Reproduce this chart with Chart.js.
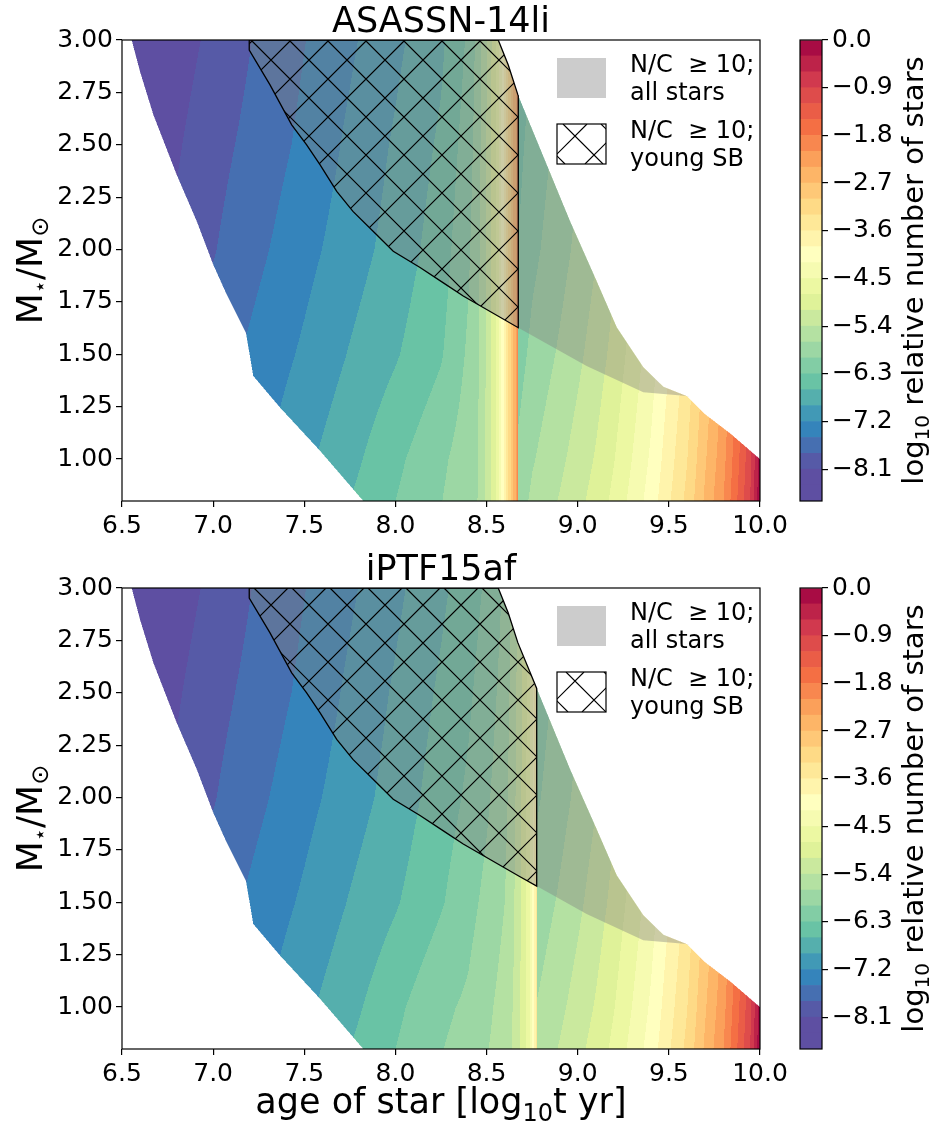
<!DOCTYPE html>
<html>
<head>
<meta charset="utf-8">
<script src="https://cdn.jsdelivr.net/npm/chart.js@4.4.1/dist/chart.umd.min.js"></script>
<style>
  body { margin: 0; background: #fff; width: 933px; height: 1129px; position: relative; overflow: hidden; }
  canvas { position: absolute; }
</style>
</head>
<body>
<canvas id="p1" width="933" height="548" style="left:0;top:0"></canvas>
<canvas id="c1" width="143" height="548" style="left:790px;top:0"></canvas>
<canvas id="p2" width="933" height="581" style="left:0;top:548px"></canvas>
<canvas id="c2" width="143" height="581" style="left:790px;top:548px"></canvas>
<script>
// ---- axes / levels ----
const xTicks = [6.5, 7.0, 7.5, 8.0, 8.5, 9.0, 9.5, 10.0];
const yTicks = [1.0, 1.25, 1.5, 1.75, 2.0, 2.25, 2.5, 2.75, 3.0];
const cbTicks = [-8.1, -7.2, -6.3, -5.4, -4.5, -3.6, -2.7, -1.8, -0.9, 0.0];
const levelMin = -8.7, levelStep = 0.3, levelCount = 29;

// ---- log10 relative number of stars, rows = stellar mass ----
const massRows = [0.8, 1.0, 1.5, 2.0, 2.5, 3.0];

// older stars, same for both hosts
const oldAges = [6.5, 6.75, 7.0, 7.25, 7.5, 7.75, 8.0, 8.25];
const oldVals = [
  [-7.98, -7.71, -7.44, -7.17, -6.90, -6.60, -6.30, -6.01],
  [-8.08, -7.80, -7.52, -7.25, -6.97, -6.69, -6.37, -6.06],
  [-8.20, -7.93, -7.66, -7.40, -7.15, -6.88, -6.63, -6.33],
  [-8.34, -8.09, -7.82, -7.56, -7.30, -7.04, -6.78, -6.45],
  [-8.45, -8.19, -7.91, -7.68, -7.43, -7.14, -6.86, -6.55],
  [-8.54, -8.29, -8.03, -7.76, -7.51, -7.25, -6.97, -6.66]
];

// ages beyond the starburst, same for both hosts
const lateAges = [8.9, 9.0, 9.1, 9.2, 9.3, 9.4, 9.5, 9.6, 9.7, 9.8, 9.9, 9.95, 10.0];
const lateVals = [
  [-5.38, -5.19, -4.98, -4.72, -4.40, -4.07, -3.64, -3.22, -2.64, -2.10, -1.30, -0.85, -0.05],
  [-5.47, -5.28, -5.07, -4.81, -4.49, -4.16, -3.73, -3.31, -2.73, -2.19, -1.39, -0.94, -0.14],
  [-5.66, -5.47, -5.26, -5.00, -4.68, -4.35, -3.92, -3.50, -2.92, -2.38, -1.58, -1.13, -0.33],
  [-5.82, -5.63, -5.42, -5.16, -4.84, -4.51, -4.08, -3.66, -3.08, -2.54, -1.74, -1.29, -0.49],
  [-5.92, -5.73, -5.52, -5.26, -4.94, -4.61, -4.18, -3.76, -3.18, -2.64, -1.84, -1.39, -0.59],
  [-6.03, -5.84, -5.63, -5.37, -5.05, -4.72, -4.29, -3.87, -3.29, -2.75, -1.95, -1.50, -0.70]
];

// ASASSN-14li: starburst up to log t = 8.674
const asassnSB = 8.674;
const asassnBurstAges = [8.4, 8.45, 8.49, 8.52, 8.55, 8.57, 8.59, 8.61, 8.63, 8.645, 8.66, 8.674];
const asassnBurstVals = [
  [-5.80, -5.70, -5.42, -5.12, -4.80, -4.45, -4.00, -3.50, -3.05, -2.70, -2.40, -1.95],
  [-5.84, -5.72, -5.43, -5.12, -4.80, -4.45, -4.00, -3.50, -3.05, -2.70, -2.40, -1.95],
  [-5.95, -5.76, -5.45, -5.13, -4.81, -4.45, -4.00, -3.50, -3.05, -2.70, -2.40, -1.95],
  [-6.05, -5.80, -5.47, -5.14, -4.82, -4.46, -4.01, -3.50, -3.05, -2.70, -2.40, -1.95],
  [-6.15, -5.85, -5.50, -5.16, -4.83, -4.47, -4.01, -3.51, -3.06, -2.70, -2.40, -1.95],
  [-6.25, -5.90, -5.53, -5.18, -4.85, -4.48, -4.02, -3.51, -3.06, -2.71, -2.41, -1.96]
];
const asassnAfterAges = [8.674, 8.75];
const asassnAfterVals = [
  [-5.85, -5.64], [-5.94, -5.73], [-6.13, -5.92], [-6.29, -6.08], [-6.39, -6.18], [-6.50, -6.29]
];

// iPTF15af: starburst up to log t = 8.775
const iptfSB = 8.775;
const iptfBurstAges = [8.4, 8.5, 8.6, 8.65, 8.69, 8.72, 8.745, 8.76, 8.775];
const iptfBurstVals = [
  [-5.90, -5.72, -5.55, -5.35, -5.05, -4.75, -4.40, -3.95, -3.40],
  [-5.95, -5.77, -5.58, -5.37, -5.06, -4.75, -4.40, -3.95, -3.40],
  [-6.10, -5.92, -5.70, -5.42, -5.08, -4.76, -4.41, -3.95, -3.40],
  [-6.25, -6.05, -5.80, -5.48, -5.11, -4.78, -4.42, -3.96, -3.41],
  [-6.35, -6.15, -5.88, -5.53, -5.14, -4.80, -4.43, -3.97, -3.42],
  [-6.45, -6.25, -5.95, -5.58, -5.17, -4.82, -4.44, -3.97, -3.42]
];
const iptfAfterAges = [8.775];
const iptfAfterVals = [[-5.60], [-5.69], [-5.88], [-6.04], [-6.14], [-6.25]];

// ---- region edges [log age, mass] ----
const leftEdge = [[7.824, 0.8], [7.586, 1.04], [7.367, 1.246], [7.22, 1.397], [7.18, 1.603], [7.074, 1.786],
  [7.0, 1.929], [6.91, 2.135], [6.8, 2.357], [6.672, 2.643], [6.599, 2.849], [6.553, 3.0]];
const rightEdge = [[8.564, 3.0], [8.619, 2.881], [8.672, 2.738], [8.958, 2.135], [9.104, 1.849], [9.214, 1.629],
  [9.36, 1.438], [9.47, 1.345], [9.6, 1.30], [9.69, 1.22], [9.84, 1.12], [10.0, 1.0]];
// lower edge of the N/C >= 10 region
const nc10Edge = [[7.198, 3.0], [7.198, 2.952], [7.312, 2.786], [7.431, 2.595], [7.513, 2.5], [7.586, 2.405],
  [7.678, 2.278], [7.767, 2.182], [7.897, 2.071], [7.988, 1.992], [8.135, 1.914], [8.263, 1.841],
  [8.372, 1.778], [8.674, 1.627], [9.049, 1.444], [9.36, 1.319], [9.615, 1.30]];

const FONT = "'DejaVu Sans', sans-serif";

// ---- colours: matplotlib Spectral, reversed ----
const spectral = ['#9e0142', '#d53e4f', '#f46d43', '#fdae61', '#fee08b', '#ffffbf',
  '#e6f598', '#abdda4', '#66c2a5', '#3288bd', '#5e4fa2'];
const stops = spectral.map(h => [1, 3, 5].map(i => parseInt(h.slice(i, i + 2), 16)));
function spectralR(t) {
  const s = (1 - t) * 10, i = Math.min(9, Math.floor(s)), f = s - i;
  return [0, 1, 2].map(k => Math.round(stops[i][k] + (stops[i + 1][k] - stops[i][k]) * f));
}
const bandColors = [];
for (let k = 0; k < levelCount; k++) bandColors.push(spectralR(Math.min(1, Math.max(0, (k - 1.5) / 27))));

function seg(xs, x) {
  const n = xs.length;
  if (x <= xs[0]) return [0, 0];
  if (x >= xs[n - 1]) return [n - 2, 1];
  let i = 0;
  while (xs[i + 1] < x) i++;
  return [i, (x - xs[i]) / (xs[i + 1] - xs[i])];
}
function lerpTable(pts, a, b, v) {
  if (v <= pts[0][a]) return pts[0][b];
  const n = pts.length;
  if (v >= pts[n - 1][a]) return pts[n - 1][b];
  let i = 0;
  while (pts[i + 1][a] < v) i++;
  const p = pts[i], q = pts[i + 1];
  return p[b] + (q[b] - p[b]) * (v - p[a]) / (q[a] - p[a]);
}
function rightM(t) { return t <= rightEdge[0][0] ? Infinity : lerpTable(rightEdge, 0, 1, t); }

function grayPolygon() {
  const pts = nc10Edge.slice();
  const last = nc10Edge[nc10Edge.length - 1][0];
  rightEdge.filter(p => p[0] < last).reverse().forEach(p => pts.push(p));
  return pts;
}
function hatchPolygon(sb) {
  const pts = nc10Edge.filter(p => p[0] < sb);
  pts.push([sb, lerpTable(nc10Edge.slice(1), 0, 1, sb)]);
  pts.push([sb, rightM(sb)]);
  rightEdge.filter(p => p[0] < sb).reverse().forEach(p => pts.push(p));
  pts.push(pts[0]);
  return pts;
}

function makePanel(o) {
  return {
    title: o.title, sb: o.sb, phase: o.phase, xlabel: o.xlabel,
    leftAges: oldAges.concat(o.burstAges),
    leftVals: oldVals.map((r, i) => r.concat(o.burstVals[i])),
    rightAges: o.afterAges.concat(lateAges),
    rightVals: o.afterVals.map((r, i) => r.concat(lateVals[i])),
    grayPoly: grayPolygon(),
    hatchPoly: hatchPolygon(o.sb)
  };
}
const panels = [
  makePanel({ title: 'ASASSN-14li', sb: asassnSB, burstAges: asassnBurstAges, burstVals: asassnBurstVals,
    afterAges: asassnAfterAges, afterVals: asassnAfterVals, phase: [21, 27], xlabel: false }),
  makePanel({ title: 'iPTF15af', sb: iptfSB, burstAges: iptfBurstAges, burstVals: iptfBurstVals,
    afterAges: iptfAfterAges, afterVals: iptfAfterVals, phase: [24, 24], xlabel: true })
];

function hatch(ctx, x0, y0, x1, y1, ph) {
  const P = 38;
  ctx.beginPath();
  let c = Math.floor((x0 - y1 - ph[0]) / P) * P + ph[0];
  for (; c <= x1 - y0; c += P) { ctx.moveTo(c + y0, y0); ctx.lineTo(c + y1, y1); }
  c = Math.floor((x0 + y0 - ph[1]) / P) * P + ph[1];
  for (; c <= x1 + y1; c += P) { ctx.moveTo(c - y0, y0); ctx.lineTo(c - y1, y1); }
  ctx.stroke();
}
function polyPath(ctx, pts, xs, ys) {
  ctx.beginPath();
  pts.forEach((p, i) => {
    const X = xs.getPixelForValue(p[0]), Y = ys.getPixelForValue(p[1]);
    if (i) ctx.lineTo(X, Y); else ctx.moveTo(X, Y);
  });
  ctx.closePath();
}
// text with sub-scripts, parts = [text, size, drop]
function richText(ctx, parts, x, y) {
  let w = 0;
  parts.forEach(p => { ctx.font = p[1] + 'px ' + FONT; w += ctx.measureText(p[0]).width; });
  let cx = x - w / 2;
  parts.forEach(p => {
    ctx.font = p[1] + 'px ' + FONT;
    ctx.fillText(p[0], cx, y + (p[2] || 0));
    cx += ctx.measureText(p[0]).width;
  });
}

const fieldPlugin = {
  id: 'field',
  beforeDatasetsDraw(chart, args, opts) {
    const p = opts.panel, ctx = chart.ctx, a = chart.chartArea;
    const xs = chart.scales.x, ys = chart.scales.y;
    const L = Math.round(a.left), T = Math.round(a.top);
    const w = Math.round(a.right) - L, h = Math.round(a.bottom) - T;
    const img = ctx.createImageData(w, h), d = img.data;
    const cols = [], subT = [], subR = [];
    for (let i = 0; i < w; i++) {
      const t = xs.getValueForPixel(L + i + 0.5);
      const left = t <= p.sb;
      cols.push([left, seg(left ? p.leftAges : p.rightAges, t)]);
      [0.25, 0.75].forEach(o => {
        const tt = xs.getValueForPixel(L + i + o);
        subT.push(tt); subR.push(rightM(tt));
      });
    }
    for (let j = 0; j < h; j++) {
      const M = ys.getValueForPixel(T + j + 0.5);
      const [r, rf] = seg(massRows, M);
      const subM = [], subL = [];
      [0.25, 0.75].forEach(o => {
        const mm = ys.getValueForPixel(T + j + o);
        subM.push(mm); subL.push(lerpTable(leftEdge, 1, 0, mm));
      });
      for (let i = 0; i < w; i++) {
        let cover = 0;
        for (let u = 0; u < 2; u++) for (let q = 0; q < 2; q++) {
          if (subT[2 * i + q] >= subL[u] && subM[u] <= subR[2 * i + q]) cover++;
        }
        if (!cover) continue;
        const g = cols[i][0] ? p.leftVals : p.rightVals, c = cols[i][1][0], cf = cols[i][1][1];
        const v0 = g[r][c] + (g[r][c + 1] - g[r][c]) * cf;
        const v1 = g[r + 1][c] + (g[r + 1][c + 1] - g[r + 1][c]) * cf;
        const v = v0 + (v1 - v0) * rf;
        const k = Math.max(0, Math.min(levelCount - 1, Math.floor((v - levelMin) / levelStep)));
        const col = bandColors[k], o = (j * w + i) * 4;
        d[o] = col[0]; d[o + 1] = col[1]; d[o + 2] = col[2]; d[o + 3] = cover * 64;
      }
    }
    const off = document.createElement('canvas');
    off.width = w; off.height = h;
    off.getContext('2d').putImageData(img, 0, 0);
    ctx.drawImage(off, L, T);

    ctx.save();
    ctx.beginPath(); ctx.rect(a.left, a.top, a.right - a.left, a.bottom - a.top); ctx.clip();
    polyPath(ctx, p.grayPoly, xs, ys);
    ctx.fillStyle = 'rgba(128,128,128,0.4)';
    ctx.fill();
    polyPath(ctx, p.hatchPoly, xs, ys);
    ctx.clip();
    ctx.strokeStyle = '#000'; ctx.lineWidth = 1.2;
    hatch(ctx, a.left, a.top, a.right, a.bottom, p.phase);
    ctx.restore();
  }
};

const framePlugin = {
  id: 'frame',
  afterDraw(chart, args, opts) {
    const p = opts.panel, ctx = chart.ctx, a = chart.chartArea;
    ctx.save();
    ctx.strokeStyle = '#000'; ctx.lineWidth = 1.2;
    ctx.strokeRect(a.left, a.top, a.right - a.left, a.bottom - a.top);

    // legend
    const lx = a.left + 435, tx = a.left + 508;
    ctx.fillStyle = 'rgba(128,128,128,0.4)';
    ctx.fillRect(lx, a.top + 18, 49, 40);
    ctx.save();
    ctx.beginPath(); ctx.rect(lx, a.top + 84, 49, 40); ctx.clip();
    ctx.strokeStyle = '#000'; ctx.lineWidth = 1.2;
    hatch(ctx, lx, a.top + 84, lx + 49, a.top + 124, p.phase);
    ctx.restore();
    ctx.strokeStyle = '#000'; ctx.lineWidth = 1.2;
    ctx.strokeRect(lx, a.top + 84, 49, 40);
    ctx.fillStyle = '#000';
    ctx.font = '24px ' + FONT;
    ctx.textAlign = 'left'; ctx.textBaseline = 'alphabetic';
    ctx.fillText('N/C  \u2265 10;', tx, a.top + 32);
    ctx.fillText('all stars', tx, a.top + 60);
    ctx.fillText('N/C  \u2265 10;', tx, a.top + 98);
    ctx.fillText('young SB', tx, a.top + 126);

    // title
    ctx.textAlign = 'center';
    ctx.font = '35px ' + FONT;
    ctx.fillText(p.title, (a.left + a.right) / 2, 32);
    ctx.textAlign = 'left';

    // y label
    ctx.save();
    ctx.translate(42, (a.top + a.bottom) / 2);
    ctx.rotate(-Math.PI / 2);
    richText(ctx, [['M', 36], ['\u22c6', 21, 5], ['/M', 36], ['\u2299', 24, 6]], 0, 0);
    ctx.restore();

    if (p.xlabel) {
      richText(ctx, [['age of star [log', 35], ['10', 24, 8], ['t yr]', 35]], (a.left + a.right) / 2, 565);
    }
    ctx.restore();
  }
};

const cbFramePlugin = {
  id: 'cbframe',
  afterDraw(chart) {
    const ctx = chart.ctx, a = chart.chartArea;
    ctx.save();
    ctx.strokeStyle = '#000'; ctx.lineWidth = 1.2;
    ctx.strokeRect(a.left, a.top, a.right - a.left, a.bottom - a.top);
    ctx.fillStyle = '#000';
    ctx.textAlign = 'left'; ctx.textBaseline = 'alphabetic';
    ctx.translate(133, (a.top + a.bottom) / 2);
    ctx.rotate(-Math.PI / 2);
    richText(ctx, [['log', 29], ['10', 20, 6], [' relative number of stars', 29]], 0, 0);
    ctx.restore();
  }
};

const tickGrid = { drawOnChartArea: false, drawTicks: true, tickLength: 6, color: '#000', lineWidth: 1.2 };

function mainChart(id, p, height) {
  return new Chart(document.getElementById(id), {
    type: 'scatter',
    data: {
      datasets: [{
        data: p.hatchPoly.map(q => ({ x: q[0], y: q[1] })),
        showLine: true, borderColor: '#000', borderWidth: 1.3,
        pointRadius: 0, tension: 0, fill: false
      }]
    },
    options: {
      responsive: false, animation: false, events: [],
      layout: { padding: { left: 0, right: 173, top: 40, bottom: height - 501 - 40 } },
      plugins: {
        legend: { display: false }, tooltip: { enabled: false },
        field: { panel: p }, frame: { panel: p }
      },
      scales: {
        x: {
          type: 'linear', min: 6.5, max: 10,
          afterBuildTicks: s => { s.ticks = xTicks.map(value => ({ value })); },
          afterFit: s => { s.height = 40; },
          ticks: { callback: v => v.toFixed(1), font: { size: 25, family: FONT }, color: '#000',
            padding: 4, maxRotation: 0, minRotation: 0, autoSkip: false },
          grid: tickGrid, border: { display: false }
        },
        y: {
          type: 'linear', min: 0.8, max: 3.0,
          afterBuildTicks: s => { s.ticks = yTicks.map(value => ({ value })); },
          afterFit: s => { s.width = 122; },
          ticks: { callback: v => v.toFixed(2), font: { size: 25, family: FONT }, color: '#000',
            padding: 3, autoSkip: false },
          grid: tickGrid, border: { display: false }
        }
      }
    },
    plugins: [fieldPlugin, framePlugin]
  });
}

function colorbar(id, height) {
  const sets = bandColors.map((c, k) => ({
    data: [[levelMin + k * levelStep, levelMin + (k + 1) * levelStep]],
    backgroundColor: 'rgb(' + c.join(',') + ')',
    borderWidth: 0, barPercentage: 1, categoryPercentage: 1
  }));
  return new Chart(document.getElementById(id), {
    type: 'bar',
    data: { labels: [''], datasets: sets },
    options: {
      responsive: false, animation: false, events: [],
      layout: { padding: { left: 10, right: 0, top: 40, bottom: height - 501 } },
      plugins: { legend: { display: false }, tooltip: { enabled: false } },
      scales: {
        x: { display: false, stacked: true },
        y: {
          position: 'right', min: levelMin, max: 0,
          afterBuildTicks: s => { s.ticks = cbTicks.map(value => ({ value })); },
          afterFit: s => { s.width = 111; },
          ticks: { callback: v => (v === 0 ? '0.0' : '\u2212' + Math.abs(v).toFixed(1)),
            font: { size: 25, family: FONT }, color: '#000', padding: 4, autoSkip: false },
          grid: tickGrid, border: { display: false }
        }
      }
    },
    plugins: [cbFramePlugin]
  });
}

mainChart('p1', panels[0], 548);
colorbar('c1', 548);
mainChart('p2', panels[1], 581);
colorbar('c2', 581);
</script>
</body>
</html>
